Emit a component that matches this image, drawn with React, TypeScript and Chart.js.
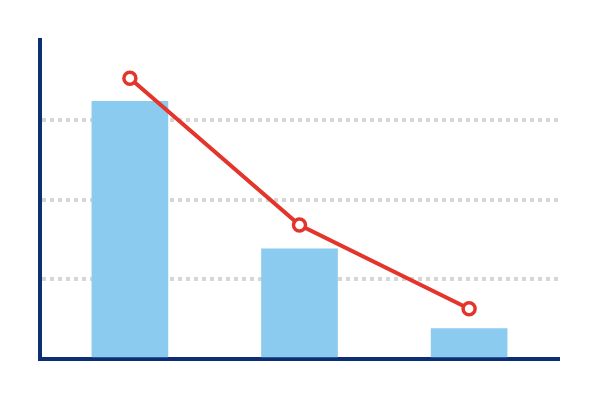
import React, { useEffect, useRef } from "react";
import { Chart, registerables } from "chart.js";

Chart.register(...registerables);

const categories = ["A", "B", "C"];
const barValues = [3.23, 1.38, 0.38];
const lineValues = [3.52, 1.68, 0.63];
const yTicks = [0, 1, 2, 3, 4];

export default function App() {
  const ref = useRef<HTMLCanvasElement | null>(null);
  useEffect(() => {
    document.body.style.margin = "0";
    const ctx = ref.current!.getContext("2d")!;
    const navy = "#0b2f72";
    const chart = new Chart(ctx, {
      type: "bar",
      data: {
        datasets: [
          {
            type: "line",
            data: lineValues.map((v, i) => ({ x: i, y: v, label: categories[i] })),
            borderColor: "#e3352b",
            borderWidth: 4,
            pointRadius: 6,
            pointBorderWidth: 3.5,
            pointBackgroundColor: "#ffffff",
            pointBorderColor: "#e3352b",
            fill: false,
            tension: 0,
            order: 0,
          } as any,
          {
            type: "bar",
            data: barValues.map((v, i) => ({ x: i, y: v, label: categories[i] })),
            backgroundColor: "#8bcbef",
            borderWidth: 0,
            barThickness: 76,
            order: 1,
          } as any,
        ],
      },
      options: {
        animation: false,
        responsive: false,
        maintainAspectRatio: false,
        layout: { padding: { left: 40, right: 41, top: 40, bottom: 41 } },
        plugins: { legend: { display: false }, tooltip: { enabled: false } },
        scales: {
          x: {
            type: "linear",
            offset: false,
            min: -0.53,
            max: 2.53,
            ticks: { display: false },
            grid: { display: false, drawTicks: false },
            border: { display: true, color: navy, width: 4 },
          },
          y: {
            min: yTicks[0],
            max: yTicks[yTicks.length - 1],
            ticks: { display: false, stepSize: 1 },
            grid: {
              drawTicks: false,
              lineWidth: 4,
              color: (c: any) =>
                c.tick && (c.tick.value === 0 || c.tick.value === 4)
                  ? "rgba(0,0,0,0)"
                  : "#d6d6d6",
            },
            border: { display: true, color: navy, width: 4, dash: [4, 4] },
          },
        },
      },
    });
    return () => chart.destroy();
  }, []);
  return (
    <div style={{ position: "fixed", left: 0, top: 0, width: 600, height: 400 }}>
      <canvas ref={ref} width={600} height={400} style={{ width: 600, height: 400 }} />
    </div>
  );
}
